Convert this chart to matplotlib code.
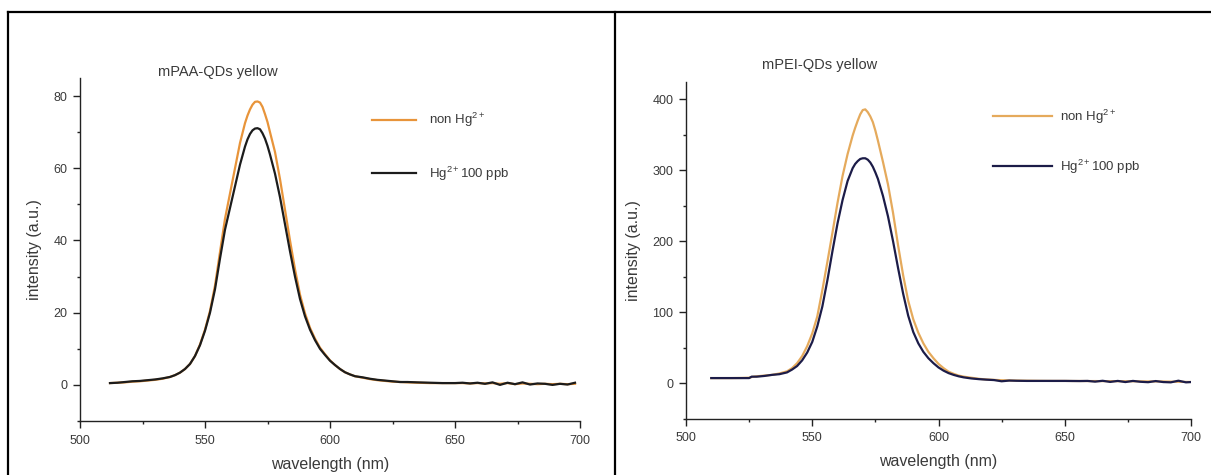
import matplotlib
matplotlib.use('Agg')
import matplotlib.pyplot as plt
from matplotlib.lines import Line2D
from matplotlib.ticker import MultipleLocator

plt.rcParams['font.family'] = ['Liberation Sans', 'DejaVu Sans']
plt.rcParams['mathtext.fontset'] = 'custom'
plt.rcParams['mathtext.rm'] = 'Liberation Sans'
plt.rcParams['mathtext.it'] = 'Liberation Sans:italic'

# --- PL spectra, mPAA-QDs (yellow) ---
wl_paa = [512, 515, 518, 521, 524, 527, 530, 533, 536, 538,
          540, 542, 544, 546, 548, 550, 552, 554, 556, 558,
          560, 562, 564, 566, 567, 568, 569, 570, 571, 572,
          573, 574, 575, 576, 578,
          580, 582, 584, 586, 588, 590, 592, 594, 596, 598,
          600, 602, 604, 606, 608, 610, 613, 616, 619, 622,
          625, 628, 631, 635, 640, 645, 650, 653, 656, 659,
          662, 665, 668, 671, 674, 677, 680, 683, 686, 689,
          692, 695, 698]
paa_non = [0.5, 0.6, 0.7, 0.9, 1.0, 1.2, 1.4, 1.7, 2.2, 2.7,
           3.4, 4.4, 5.8, 8.0, 11.2, 15.3, 20.5, 27.5, 36.8, 46.0,
           53.0, 60.0, 67.0, 72.5, 74.6, 76.3, 77.6, 78.4, 78.5, 78.2,
           77.0, 75.0, 72.8, 70.0, 64.5,
           57.0, 48.5, 40.0, 32.0, 25.0, 19.8, 15.8, 12.8, 10.3, 8.5,
           6.8, 5.5, 4.4, 3.5, 2.9, 2.4, 2.0, 1.6, 1.3, 1.1,
           0.9, 0.8, 0.7, 0.6, 0.5, 0.5, 0.5, 0.5, 0.4, 0.5,
           0.4, 0.5, 0.3, 0.5, 0.2, 0.4, 0.3, 0.2, 0.3, 0.2,
           0.3, 0.2, 0.3]
paa_hg = [0.5, 0.6, 0.8, 1.0, 1.1, 1.3, 1.5, 1.8, 2.2, 2.7,
          3.4, 4.4, 5.8, 8.0, 11.0, 15.0, 20.0, 26.5, 35.0, 43.0,
          49.0, 55.0, 61.0, 66.0, 68.0, 69.5, 70.5, 71.0, 71.1, 70.8,
          69.7, 68.2, 66.2, 63.8, 58.5,
          52.0, 44.5, 37.0, 30.0, 23.8, 19.0, 15.3, 12.4, 10.0, 8.3,
          6.7, 5.5, 4.4, 3.5, 2.9, 2.4, 2.1, 1.7, 1.4, 1.2,
          1.0, 0.8, 0.8, 0.7, 0.6, 0.5, 0.5, 0.6, 0.4, 0.6,
          0.3, 0.7, 0.0, 0.6, 0.2, 0.7, 0.1, 0.4, 0.3, 0.0,
          0.3, 0.1, 0.6]

# --- PL spectra, mPEI-QDs (yellow) ---
wl_pei = [510, 514, 518, 522, 525, 526, 528, 531, 534, 537,
          540, 542, 544, 546, 548, 550, 552, 554, 556, 558,
          560, 562, 564, 566, 567, 568, 569, 570, 571, 572,
          573, 574, 575, 576, 578,
          580, 582, 584, 586, 588, 590, 592, 594, 596, 598,
          600, 602, 604, 606, 608, 610, 613, 616, 619, 622,
          625, 628, 631, 635, 640, 645, 650, 653, 656, 659,
          662, 665, 668, 671, 674, 677, 680, 683, 686, 689,
          692, 695, 698, 700]
pei_non = [7.0, 7.0, 7.0, 7.2, 7.5, 8.5, 9.5, 10.5, 11.5, 13.5,
           16.5, 21, 28, 38, 52, 70, 94, 131, 171, 212,
           254, 292, 323, 349, 360, 370, 379, 385, 386, 382,
           376, 368, 356, 342, 312,
           280, 240, 194, 152, 116, 90, 71, 56, 44, 35,
           27, 21, 16, 13, 10.5, 9, 7.5, 6.0, 5.0, 4.5,
           4.0, 3.7, 3.5, 3.3, 3.1, 3.0, 3.0, 2.9, 2.9, 2.8,
           2.8, 2.7, 2.7, 2.6, 2.5, 2.5, 2.4, 2.3, 2.3, 2.2,
           2.0, 1.8, 1.6, 1.5]
pei_hg = [7.0, 7.0, 7.0, 7.0, 7.0, 9.0, 9.0, 10.0, 11.5, 12.5,
          15, 19, 24, 32, 43, 58, 80, 108, 145, 186,
          225, 258, 285, 303, 309, 313, 316, 317, 317, 315,
          311, 305, 297, 288, 264,
          235, 200, 162, 126, 95, 72, 56, 44, 35, 28,
          22, 17.5, 14, 11.5, 9.5, 8, 6.5, 5.5, 4.8, 4.2,
          2.5, 3.5, 3.2, 3.0, 3.0, 3.0, 3.0, 2.9, 2.8, 3.0,
          2.0, 3.2, 1.6, 3.0, 1.4, 3.0, 1.8, 1.2, 2.8, 1.4,
          1.0, 3.3, 1.0, 1.4]

label_non = 'non Hg$^{2+}$'
label_hg = 'Hg$^{2+}$100 ppb'

W, H = 1211, 475
TXT = '#3a3a3a'

fig = plt.figure(figsize=(W / 100, H / 100), dpi=100)

# table-like frame around both panels
frame = dict(color='black', lw=1.6, transform=fig.transFigure)
fig.add_artist(Line2D([8 / W, 1], [1 - 12 / H, 1 - 12 / H], **frame))
fig.add_artist(Line2D([8 / W, 8 / W], [0, 1 - 12 / H], **frame))
fig.add_artist(Line2D([615 / W, 615 / W], [0, 1 - 12 / H], **frame))


def style_axes(ax, ymaj, ymin_step):
    for side in ['top', 'right']:
        ax.spines[side].set_visible(False)
    for side in ['left', 'bottom']:
        ax.spines[side].set_linewidth(1.0)
        ax.spines[side].set_color('#222222')
    ax.xaxis.set_major_locator(MultipleLocator(50))
    ax.xaxis.set_minor_locator(MultipleLocator(25))
    ax.yaxis.set_major_locator(MultipleLocator(ymaj))
    ax.yaxis.set_minor_locator(MultipleLocator(ymin_step))
    ax.tick_params(which='major', direction='out', length=5, width=1.0,
                   color='#222222', labelsize=9, labelcolor=TXT)
    ax.tick_params(which='minor', direction='out', length=2.5, width=1.0,
                   color='#222222')
    ax.tick_params(axis='x', pad=5)
    ax.tick_params(axis='y', pad=4)
    ax.set_xlabel('wavelength (nm)', fontsize=11.5, color=TXT, labelpad=7)
    ax.set_ylabel('intensity (a.u.)', fontsize=11.5, color=TXT, labelpad=8)


# left panel
ax1 = fig.add_axes([80 / W, 1 - 421 / H, 500 / W, 343 / H])
ax1.plot(wl_paa, paa_non, color='#E8943A', lw=1.6, label=label_non)
ax1.plot(wl_paa, paa_hg, color='#1c1c1c', lw=1.6, label=label_hg)
ax1.set_xlim(500, 700)
ax1.set_ylim(-10, 85)
style_axes(ax1, 20, 10)
ax1.legend(loc='upper left', bbox_to_anchor=(0.584, 0.904), frameon=False,
           borderpad=0, borderaxespad=0, fontsize=9.5, handlelength=3.3,
           handletextpad=1.0, labelspacing=2.7, labelcolor=TXT)
fig.text(218 / W, 1 - 72 / H, 'mPAA-QDs yellow', ha='center', va='center',
         fontsize=10.5, color=TXT)

# right panel
ax2 = fig.add_axes([686 / W, 1 - 418.5 / H, 505 / W, 336.8 / H])
ax2.plot(wl_pei, pei_non, color='#E5AA5C', lw=1.6, label=label_non)
ax2.plot(wl_pei, pei_hg, color='#1c1c48', lw=1.6, label=label_hg)
ax2.set_xlim(500, 700)
ax2.set_ylim(-50, 425)
style_axes(ax2, 100, 50)
ax2.legend(loc='upper left', bbox_to_anchor=(0.608, 0.923), frameon=False,
           borderpad=0, borderaxespad=0, fontsize=9.5, handlelength=4.5,
           handletextpad=0.6, labelspacing=2.4, labelcolor=TXT)
fig.text(820 / W, 1 - 65 / H, 'mPEI-QDs yellow', ha='center', va='center',
         fontsize=10.5, color=TXT)

fig.savefig('out.png', dpi=100, facecolor='white')
